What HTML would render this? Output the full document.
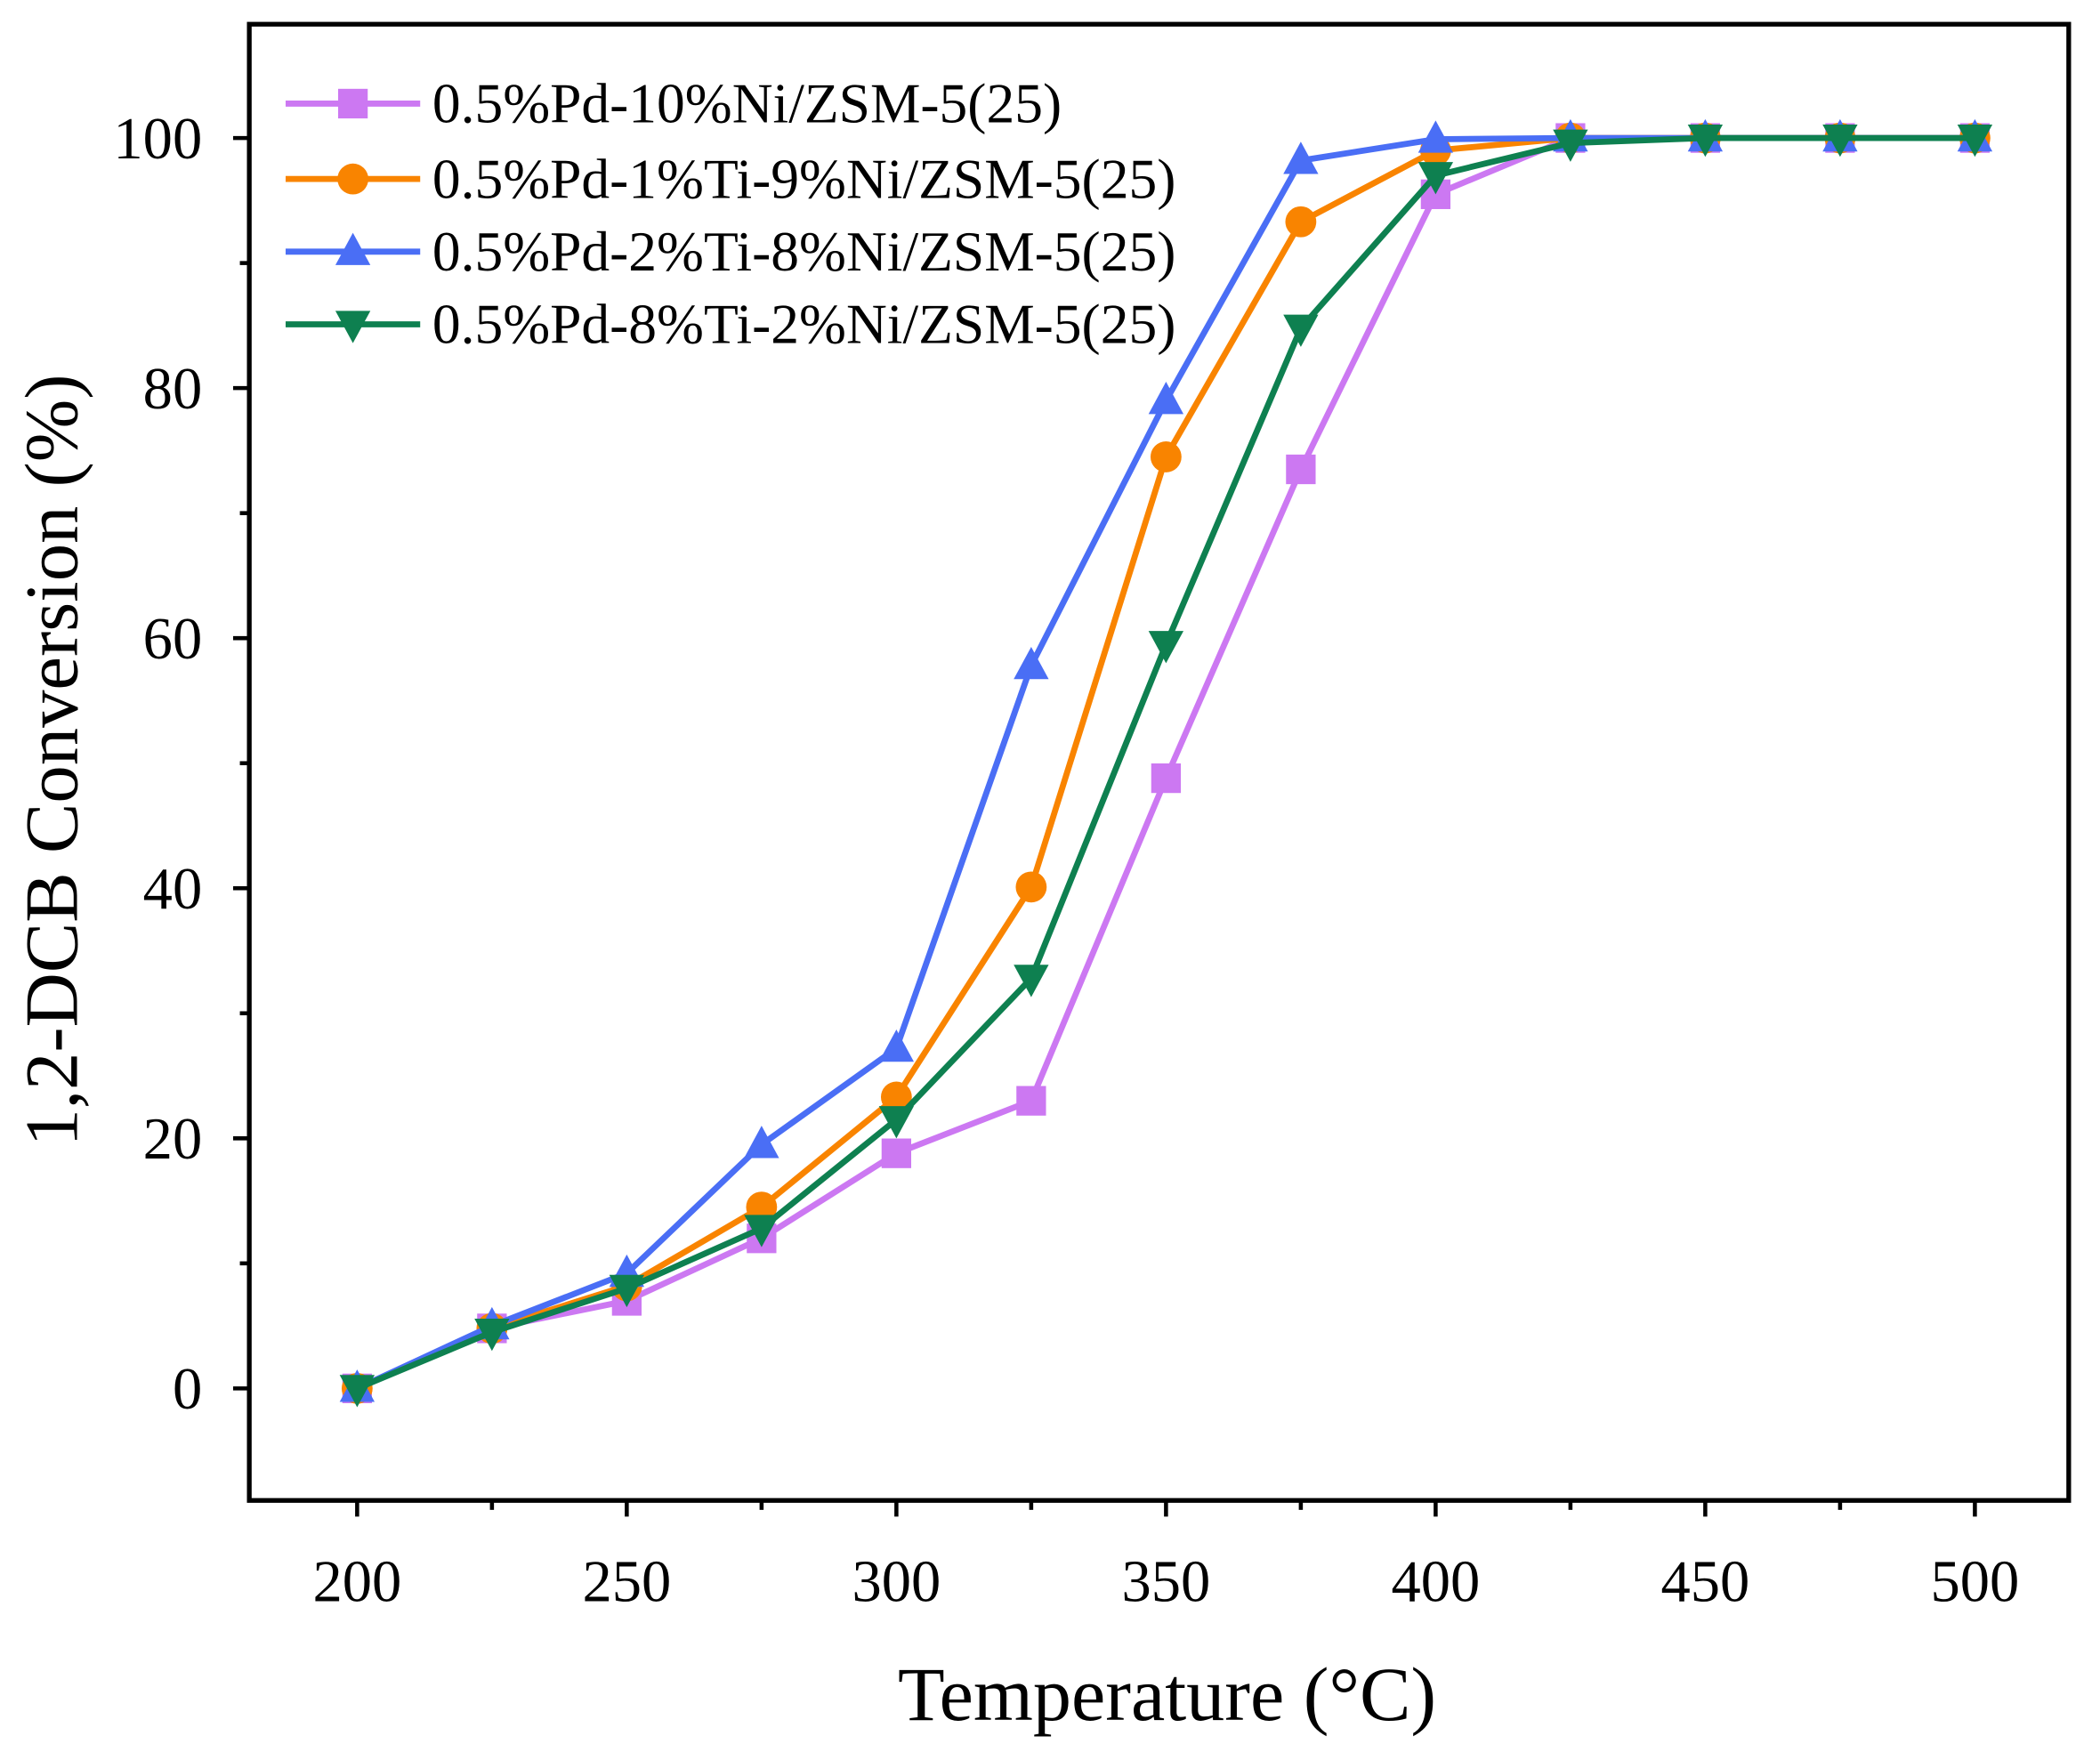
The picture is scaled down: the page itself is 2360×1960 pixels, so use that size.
<!DOCTYPE html>
<html><head><meta charset="utf-8"><style>
html,body{margin:0;padding:0;background:#fff;}
svg{display:block;}
text{font-family:"Liberation Serif",serif;fill:#000;}
</style></head><body>
<svg id="chart" width="2360" height="1960" viewBox="0 0 1560 1296" xmlns="http://www.w3.org/2000/svg">
<rect x="0" y="0" width="1560" height="1296" fill="#fff"/>
<g id="plot"></g>
</svg>
<script>
const temps = [200,225,250,275,300,325,350,375,400,425,450,475,500];
const seriesNames = ["0.5%Pd-10%Ni/ZSM-5(25)","0.5%Pd-1%Ti-9%Ni/ZSM-5(25)","0.5%Pd-2%Ti-8%Ni/ZSM-5(25)","0.5%Pd-8%Ti-2%Ni/ZSM-5(25)"];
const pdNi = [0,4.8,7,12,18.8,23,48.8,73.5,95.5,100,100,100,100];
const pdTi1 = [0,4.8,8.2,14.5,23.3,40.1,74.5,93.3,99,100,100,100,100];
const pdTi2 = [0,5,9.2,19.5,27.2,57.8,79,98.2,99.9,100,100,100,100];
const pdTi8 = [0,4.5,8,12.8,21.5,32.8,59.5,84.8,97,99.6,100,100,100];
const xTicks = [200,250,300,350,400,450,500];
const yTicks = [0,20,40,60,80,100];
const colors = ["#cc78f2","#f98400","#4a6ef5","#0e8050"];
const markers = ["square","circle","up","down"];

const NS="http://www.w3.org/2000/svg";
const L=185,R=1537,T=18,B=1115;
const xMin=180, xMax=517.4, yMin=-8.96, yMax=109.1;
const xs=v=>L+(v-xMin)/(xMax-xMin)*(R-L);
const ys=v=>B-(v-yMin)/(yMax-yMin)*(B-T);
const g=document.getElementById('plot');
function el(tag,attrs,parent){const e=document.createElementNS(NS,tag);for(const k in attrs)e.setAttribute(k,attrs[k]);(parent||g).appendChild(e);return e;}
function marker(type,x,y,c,parent){
  let e;
  if(type==="square") e=el('rect',{x:x-11,y:y-11,width:22,height:22,fill:c},parent);
  else if(type==="circle") e=el('circle',{cx:x,cy:y,r:11.5,fill:c},parent);
  else if(type==="up") e=el('polygon',{points:`${x},${y-14} ${x-13},${y+10} ${x+13},${y+10}`,fill:c},parent);
  else e=el('polygon',{points:`${x},${y+14} ${x-13},${y-10} ${x+13},${y-10}`,fill:c},parent);
  return e;
}
const frame=el('rect',{x:L,y:T,width:R-L,height:B-T,fill:'none',stroke:'#000','stroke-width':3.5});


for(const v of xTicks){
  const t=el('line',{x1:xs(v),x2:xs(v),y1:B,y2:B+12,stroke:'#000','stroke-width':3});
  
  
  const lb=el('text',{x:xs(v),y:B+75,'font-size':44,'text-anchor':'middle'});lb.textContent=v;
  
  
}
for(let v=225;v<500;v+=50){
  const t=el('line',{x1:xs(v),x2:xs(v),y1:B,y2:B+7,stroke:'#000','stroke-width':3});
  
  
}
for(const v of yTicks){
  const t=el('line',{x1:L-12,x2:L,y1:ys(v),y2:ys(v),stroke:'#000','stroke-width':3});
  
  
  const lb=el('text',{x:150,y:ys(v)+15,'font-size':44,'text-anchor':'end'});lb.textContent=v;
  
  
}
for(let v=10;v<=100;v+=20){
  const t=el('line',{x1:L-7,x2:L,y1:ys(v),y2:ys(v),stroke:'#000','stroke-width':3});
  
  
}
const xt=el('text',{x:867,y:1278,'font-size':57,'text-anchor':'middle'});xt.textContent='Temperature (°C)';


const yt=el('text',{x:0,y:0,'font-size':56,'text-anchor':'middle',transform:`translate(57,565) rotate(-90)`});yt.textContent='1,2-DCB Conversion (%)';


const allSeries=[pdNi,pdTi1,pdTi2,pdTi8];
const sn=['series-pd-10ni','series-pd-1ti-9ni','series-pd-2ti-8ni','series-pd-8ti-2ni'];
allSeries.forEach((vals,i)=>{
  const sg=el('g',{});
  
  
  const pl=el('polyline',{points:vals.map((v,j)=>xs(temps[j])+','+ys(v)).join(' '),fill:'none',stroke:colors[i],'stroke-width':4.5,'stroke-linejoin':'round'},sg);
  
  
  vals.forEach((v,j)=>{
    const m=marker(markers[i],xs(temps[j]),ys(v),colors[i],sg);
    
    
  });
});
const lg=el('g',{});


const ly=[77,133,187,241];
seriesNames.forEach((n,i)=>{
  const eg=el('g',{},lg);
  
  
  el('line',{x1:212,x2:312,y1:ly[i],y2:ly[i],stroke:colors[i],'stroke-width':4.5},eg);
  marker(markers[i],262,ly[i],colors[i],eg);
  const t=el('text',{x:321,y:ly[i]+14,'font-size':42},eg);t.textContent=n;
});
</script>
</body></html>
